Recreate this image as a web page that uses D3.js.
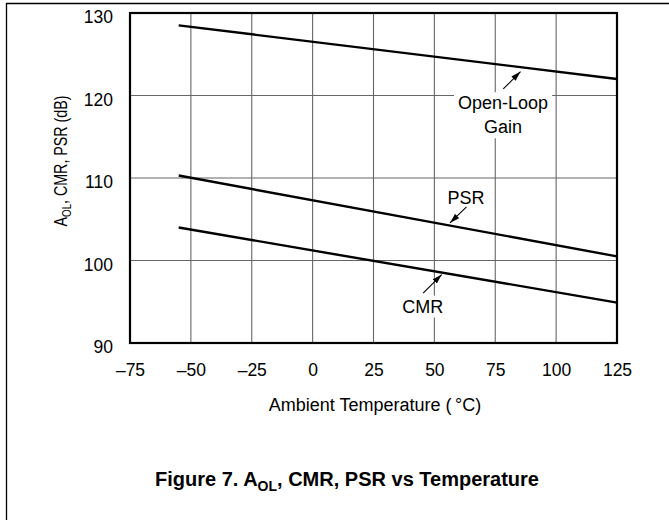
<!DOCTYPE html>
<html>
<head>
<meta charset="utf-8">
<script src="https://cdn.jsdelivr.net/npm/d3@7"></script>
<style>
  body { margin: 0; background: #fff; }
  text { font-family: "Liberation Sans", Arial, sans-serif; fill: #000; }
</style>
</head>
<body>
<div id="chart"></div>
<script>
// data (straight lines, -55 to 125 C)
const temps = [-55, 125];
const aolValues = [128.5, 122.0];
const psrValues = [110.3, 100.5];
const cmrValues = [104.0, 94.9];

const xTicks = [-75, -50, -25, 0, 25, 50, 75, 100, 125];
const yTicks = [90, 100, 110, 120, 130];

const margin = { top: 13, right: 52, bottom: 177, left: 130 };
const W = 669, H = 520;
const width = W - margin.left - margin.right;
const height = H - margin.top - margin.bottom;

const svg = d3.select("#chart")
    .append("svg")
    .attr("width", W)
    .attr("height", H);

// outer page frame (only left/top visible)
svg.append("path")
    .attr("d", `M6.5,${H + 2} V3.5 H${W + 2}`)
    .attr("fill", "none")
    .attr("stroke", "#000")
    .attr("stroke-width", 1.3);

const g = svg.append("g")
    .attr("transform", `translate(${margin.left},${margin.top})`);

const x = d3.scaleLinear().domain([-75, 125]).range([0, width]);
const y = d3.scaleLinear().domain([90, 130]).range([height, 0]);

// grid
g.append("g")
    .selectAll("line")
    .data(xTicks.slice(1, -1))
    .join("line")
    .attr("x1", d => x(d)).attr("x2", d => x(d))
    .attr("y1", 0).attr("y2", height)
    .attr("stroke", "#666")
    .attr("stroke-width", 1.1);

g.append("g")
    .selectAll("line")
    .data(yTicks.slice(1, -1))
    .join("line")
    .attr("x1", 0).attr("x2", width)
    .attr("y1", d => y(d)).attr("y2", d => y(d))
    .attr("stroke", "#666")
    .attr("stroke-width", 1.1);

// label backgrounds are drawn later (need text sizes), so keep a layer here
const bgLayer = g.append("g");

// data lines
const line = d3.line()
    .x((d, i) => x(temps[i]))
    .y(d => y(d));

[aolValues, psrValues, cmrValues].forEach(vals => {
    g.append("path")
        .datum(vals)
        .attr("d", line)
        .attr("fill", "none")
        .attr("stroke", "#000")
        .attr("stroke-width", 2.4);
});

// plot frame
g.append("rect")
    .attr("width", width)
    .attr("height", height)
    .attr("fill", "none")
    .attr("stroke", "#000")
    .attr("stroke-width", 2.2);

// axes tick labels
const xAxis = d3.axisBottom(x).tickValues(xTicks)
    .tickFormat(d => d < 0 ? "\u2013" + Math.abs(d) : d)
    .tickSize(0).tickPadding(0);
const xg = g.append("g")
    .attr("transform", `translate(0,${height})`)
    .call(xAxis);
xg.select(".domain").remove();
xg.selectAll("text")
    .attr("y", 33).attr("dy", 0)
    .style("font-size", "17.5px")
    .attr("font-family", null);

const yAxis = d3.axisLeft(y).tickValues(yTicks)
    .tickSize(0).tickPadding(0);
const yg = g.append("g").call(yAxis);
yg.select(".domain").remove();
yg.selectAll("text")
    .attr("x", -17).attr("dy", "0.55em")
    .style("font-size", "17.5px")
    .attr("font-family", null);

// axis titles
svg.append("text")
    .attr("x", 375)
    .attr("y", 411)
    .attr("text-anchor", "middle")
    .style("font-size", "18px")
    .text("Ambient Temperature (\u2009\u00B0C)");

const yl = svg.append("text")
    .attr("transform", "translate(67,161) rotate(-90) scale(0.75,1)")
    .attr("text-anchor", "middle")
    .style("font-size", "19px");
yl.append("tspan").text("A");
yl.append("tspan").attr("dy", 4).style("font-size", "13px").text("OL");
yl.append("tspan").attr("dy", -4).text(", CMR, PSR (dB)");

// title
const title = svg.append("text")
    .attr("x", 347)
    .attr("y", 486)
    .attr("text-anchor", "middle")
    .style("font-size", "20px")
    .style("font-weight", "bold");
title.append("tspan").text("Figure 7. A");
title.append("tspan").attr("dy", 5).style("font-size", "14px").text("OL");
title.append("tspan").attr("dy", -5).text(", CMR, PSR vs Temperature");

// annotations (data coordinates)
const labels = [
    { lines: ["Open-Loop", "Gain"], tx: 78.2, ty: 119.1, from: [78.3, 120.8], to: [85.4, 122.9] },
    { lines: ["PSR"], tx: 63, ty: 107.65, from: [63.2, 106.5], to: [56.4, 104.55] },
    { lines: ["CMR"], tx: 45.2, ty: 94.45, from: [45.4, 96.05], to: [53.0, 98.3] }
];

svg.append("defs").append("marker")
    .attr("id", "ah")
    .attr("viewBox", "0 0 10 6")
    .attr("refX", 10).attr("refY", 3)
    .attr("markerWidth", 10).attr("markerHeight", 6)
    .attr("markerUnits", "userSpaceOnUse")
    .attr("orient", "auto")
    .append("path")
    .attr("d", "M0,0 L10,3 L0,6 Z")
    .attr("fill", "#000");

labels.forEach(l => {
    const t = g.append("text")
        .attr("text-anchor", "middle")
        .style("font-size", "18px");
    l.lines.forEach((s, i) => {
        t.append("tspan")
            .attr("x", x(l.tx))
            .attr("y", y(l.ty) + i * 24)
            .attr("dy", "0.35em")
            .text(s);
    });
    const bb = t.node().getBBox();
    bgLayer.append("rect")
        .attr("x", bb.x - 4).attr("y", bb.y - 1)
        .attr("width", bb.width + 8).attr("height", bb.height + 2)
        .attr("fill", "#fff");
    g.append("line")
        .attr("x1", x(l.from[0])).attr("y1", y(l.from[1]))
        .attr("x2", x(l.to[0])).attr("y2", y(l.to[1]))
        .attr("stroke", "#000")
        .attr("stroke-width", 1.1)
        .attr("marker-end", "url(#ah)");
});
</script>
</body>
</html>
